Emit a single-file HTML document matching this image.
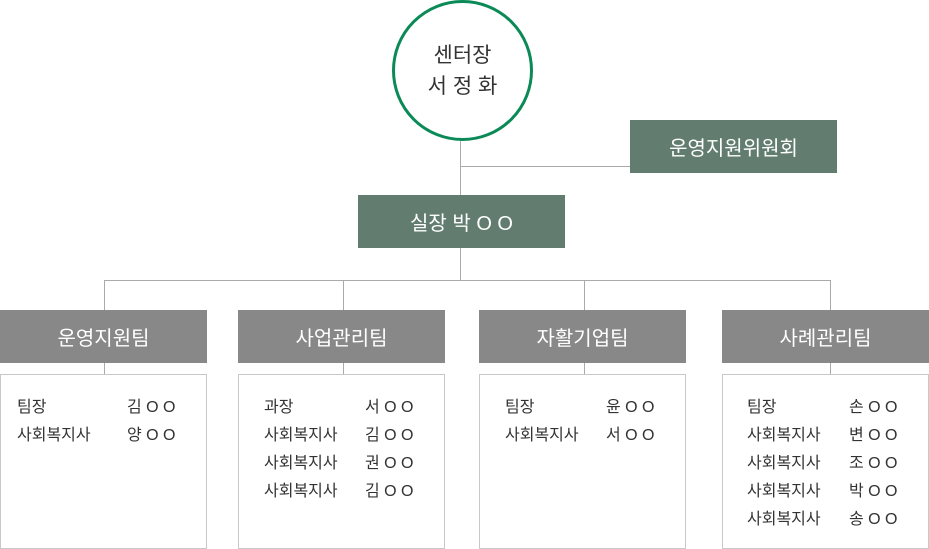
<!DOCTYPE html>
<html><head><meta charset="utf-8"><style>
*{margin:0;padding:0;box-sizing:border-box}
body{width:929px;height:549px;background:#fff;position:relative;overflow:hidden;font-family:"Liberation Sans","Noto Sans CJK KR",sans-serif;color:#333}
.a{position:absolute}
.l{position:absolute;background:#aaa}
.g{position:absolute;background:#627d70;color:#fff;font-size:20px;display:flex;align-items:center;justify-content:center}
.t{position:absolute;background:#888;color:#fff;font-size:20px;display:flex;align-items:center;justify-content:center;top:310px;height:53px;width:207px}
.c{position:absolute;top:374px;height:175px;width:207px;border:1px solid #c8c8c8;background:#fff}
.r{position:absolute;font-size:16px;line-height:28px;white-space:nowrap}
</style></head><body>
<div class="a" style="left:392px;top:0;width:141px;height:141px;border:3px solid #0b8a57;border-radius:50%;display:flex;align-items:center;justify-content:center;text-align:center;font-size:21px;line-height:31px;color:#333">센터장<br>서 정 화</div>
<div class="l" style="left:460px;top:141px;width:1px;height:54px"></div>
<div class="l" style="left:460px;top:166px;width:170px;height:1px"></div>
<div class="g" style="left:630px;top:120px;width:207px;height:53px">운영지원위원회</div>
<div class="g" style="left:358px;top:195px;width:207px;height:53px">실장 박 O O</div>
<div class="l" style="left:460px;top:248px;width:1px;height:32px"></div>
<div class="l" style="left:104px;top:280px;width:727px;height:1px"></div>
<div class="l" style="left:104px;top:280px;width:1px;height:94px"></div>
<div class="l" style="left:343px;top:280px;width:1px;height:94px"></div>
<div class="l" style="left:584px;top:280px;width:1px;height:94px"></div>
<div class="l" style="left:830px;top:280px;width:1px;height:94px"></div>
<div class="t" style="left:0">운영지원팀</div>
<div class="t" style="left:238px">사업관리팀</div>
<div class="t" style="left:479px">자활기업팀</div>
<div class="t" style="left:722px">사례관리팀</div>
<div class="c" style="left:0"></div>
<div class="c" style="left:238px"></div>
<div class="c" style="left:479px"></div>
<div class="c" style="left:722px"></div>
<div class="r" style="left:17px;top:394px">팀장<br>사회복지사</div>
<div class="r" style="left:127px;top:394px">김 O O<br>양 O O</div>
<div class="r" style="left:264px;top:394px">과장<br>사회복지사<br>사회복지사<br>사회복지사</div>
<div class="r" style="left:365px;top:394px">서 O O<br>김 O O<br>권 O O<br>김 O O</div>
<div class="r" style="left:505px;top:394px">팀장<br>사회복지사</div>
<div class="r" style="left:606px;top:394px">윤 O O<br>서 O O</div>
<div class="r" style="left:747px;top:394px">팀장<br>사회복지사<br>사회복지사<br>사회복지사<br>사회복지사</div>
<div class="r" style="left:849px;top:394px">손 O O<br>변 O O<br>조 O O<br>박 O O<br>송 O O</div>
</body></html>
